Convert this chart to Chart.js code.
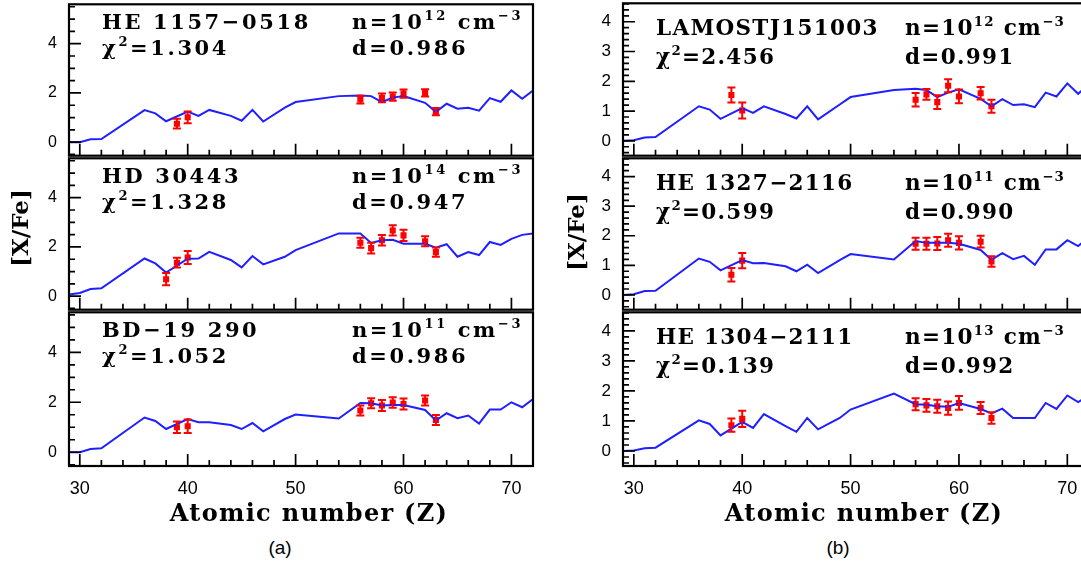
<!DOCTYPE html>
<html>
<head>
<meta charset="utf-8">
<script src="https://cdn.jsdelivr.net/npm/chart.js@4.4.1/dist/chart.umd.min.js"></script>
<style>
  html, body { margin: 0; padding: 0; background: #fff; overflow: hidden; width: 1081px; height: 568px; }
  #wrap { position: relative; width: 1110px; height: 568px; }
  #wrap canvas { position: absolute; }
  .cap { position: absolute; width: 60px; text-align: center; font: 19px "Liberation Sans", Arial, sans-serif; color: #000; }
</style>
</head>
<body>
<div id="wrap">
  <canvas id="p1"></canvas>
  <canvas id="p2"></canvas>
  <canvas id="p3"></canvas>
  <canvas id="p4"></canvas>
  <canvas id="p5"></canvas>
  <canvas id="p6"></canvas>
  <div class="cap" style="left:250px; top:537px;">(a)</div>
  <div class="cap" style="left:808px; top:537px;">(b)</div>
</div>
<script>
// model curves, one value per atomic number in atomicZ
const atomicZ = [29, 30, 31, 32, 36, 37, 38, 40, 41, 42, 44, 45, 46, 47, 49, 50, 54, 56, 57, 58, 59, 60, 62, 63, 64, 65, 66, 67, 68, 69, 70, 71, 72];

const modelHE1157 = [0, 0, 0.12, 0.13, 1.3, 1.17, 0.85, 1.24, 1.07, 1.31, 1.07, 0.87, 1.31, 0.84, 1.4, 1.63, 1.87, 1.9, 1.87, 1.63, 1.81, 1.87, 1.6, 1.23, 1.56, 1.36, 1.4, 1.28, 1.79, 1.64, 2.1, 1.76, 2.1];
const modelHD30443 = [0.07, 0.13, 0.29, 0.32, 1.53, 1.33, 0.96, 1.52, 1.53, 1.8, 1.47, 1.17, 1.63, 1.29, 1.6, 1.87, 2.55, 2.55, 2.16, 2.27, 2.29, 2.13, 2.13, 1.97, 2.11, 1.6, 1.79, 1.67, 2.2, 2.08, 2.33, 2.49, 2.55];
const modelBD19 = [0, 0, 0.13, 0.16, 1.39, 1.25, 0.93, 1.33, 1.2, 1.2, 1.09, 0.93, 1.17, 0.84, 1.33, 1.51, 1.35, 1.97, 1.96, 1.87, 1.89, 1.89, 1.69, 1.27, 1.56, 1.36, 1.47, 1.15, 1.71, 1.71, 2.0, 1.8, 2.13];
const modelLAMOST = [0, 0.02, 0.11, 0.13, 1.16, 1.05, 0.74, 1.1, 0.94, 1.16, 0.9, 0.75, 1.16, 0.72, 1.22, 1.47, 1.71, 1.75, 1.71, 1.47, 1.62, 1.73, 1.41, 1.16, 1.4, 1.2, 1.23, 1.13, 1.62, 1.49, 1.93, 1.58, 1.9];
const modelHE1327 = [0, 0.02, 0.13, 0.14, 1.23, 1.12, 0.83, 1.18, 1.07, 1.08, 0.97, 0.8, 1.02, 0.74, 1.18, 1.38, 1.2, 1.82, 1.76, 1.76, 1.76, 1.73, 1.52, 1.19, 1.41, 1.21, 1.32, 1.02, 1.54, 1.54, 1.85, 1.65, 1.95];
const modelHE1304 = [0, 0.02, 0.09, 0.11, 1.02, 0.9, 0.52, 0.97, 0.77, 1.23, 0.83, 0.64, 1.1, 0.72, 1.1, 1.38, 1.91, 1.56, 1.54, 1.49, 1.47, 1.6, 1.4, 1.25, 1.41, 1.1, 1.1, 1.1, 1.6, 1.4, 1.85, 1.63, 1.85];

// observed abundances with errors
const obsZ = [39, 40, 56, 57, 58, 59, 60, 62, 63];
const obsZ_HE1157 = [39, 40, 56, 58, 59, 60, 62, 63];
const obsZ_HD30443 = [38, 39, 40, 56, 57, 58, 59, 60, 62, 63];

const obsHE1157 = [0.75, 1.01, 1.73, 1.8, 1.85, 1.97, 2.0, 1.24];
const errHE1157 = [0.2, 0.24, 0.16, 0.18, 0.17, 0.17, 0.15, 0.15];
const obsHD30443 = [0.69, 1.36, 1.57, 2.17, 1.95, 2.27, 2.67, 2.47, 2.23, 1.79];
const errHD30443 = [0.25, 0.2, 0.26, 0.2, 0.22, 0.21, 0.21, 0.23, 0.2, 0.19];
const obsBD19 = [1.0, 1.04, 1.67, 1.96, 1.87, 1.99, 1.93, 2.07, 1.29];
const errBD19 = [0.23, 0.27, 0.2, 0.2, 0.22, 0.21, 0.22, 0.2, 0.2];
const obsLAMOST = [1.54, 1.02, 1.38, 1.56, 1.3, 1.85, 1.49, 1.6, 1.16];
const errLAMOST = [0.25, 0.27, 0.23, 0.18, 0.23, 0.22, 0.23, 0.21, 0.22];
const obsHE1327 = [0.68, 1.16, 1.73, 1.73, 1.74, 1.85, 1.76, 1.8, 1.13];
const errHE1327 = [0.23, 0.26, 0.2, 0.2, 0.22, 0.22, 0.22, 0.2, 0.18];
const obsHE1304 = [0.86, 1.07, 1.56, 1.52, 1.49, 1.43, 1.6, 1.43, 1.1];
const errHE1304 = [0.22, 0.27, 0.2, 0.21, 0.22, 0.22, 0.23, 0.2, 0.19];

// tick labels
const xTicks = [30, 40, 50, 60, 70];
const yTicksLeft = [0, 2, 4];
const yTicksRight = [0, 1, 2, 3, 4];

const serif = '"DejaVu Serif", "Liberation Serif", serif';
const sans = '"Liberation Sans", Arial, sans-serif';

const columns = {
  left: { x: 0, width: 540, axisW: 69, yMin: -0.55, yMax: 5.6, yTicks: yTicksLeft, major: 2, minor: 0.5,
          tickSize: 16, size: 21, spacing: 2.6, base1: 25, base2: 51, col2: 283, yTitle: [22.5, 228] },
  right: { x: 560, width: 536, axisW: 63, yMin: -0.5, yMax: 4.62, yTicks: yTicksRight, major: 1, minor: 0.2,
           tickSize: 17, size: 21.5, spacing: 1.3, base1: 32, base2: 61, col2: 282, yTitle: [578.5, 232] }
};

const panels = [
  { id: 'p1', col: 'left', row: 0, model: modelHE1157, z: obsZ_HE1157, v: obsHE1157, e: errHE1157, star: 'HE 1157−0518', chi2: '1.304', dens: '12', d: '0.986' },
  { id: 'p2', col: 'left', row: 1, model: modelHD30443, z: obsZ_HD30443, v: obsHD30443, e: errHD30443, star: 'HD 30443', chi2: '1.328', dens: '14', d: '0.947' },
  { id: 'p3', col: 'left', row: 2, model: modelBD19, z: obsZ, v: obsBD19, e: errBD19, star: 'BD−19 290', chi2: '1.052', dens: '11', d: '0.986' },
  { id: 'p4', col: 'right', row: 0, model: modelLAMOST, z: obsZ, v: obsLAMOST, e: errLAMOST, star: 'LAMOSTJ151003', chi2: '2.456', dens: '12', d: '0.991' },
  { id: 'p5', col: 'right', row: 1, model: modelHE1327, z: obsZ, v: obsHE1327, e: errHE1327, star: 'HE 1327−2116', chi2: '0.599', dens: '11', d: '0.990' },
  { id: 'p6', col: 'right', row: 2, model: modelHE1304, z: obsZ, v: obsHE1304, e: errHE1304, star: 'HE 1304−2111', chi2: '0.139', dens: '13', d: '0.992' }
];

// writes text pieces one after the other, superscripts smaller and raised
function drawRich(ctx, parts, x, y, size) {
  for (const p of parts) {
    const s = p.sup ? size * 0.62 : size;
    ctx.font = `bold ${s}px ${serif}`;
    ctx.fillText(p.t, x, p.sup ? y - size * 0.42 : y);
    x += ctx.measureText(p.t).width;
  }
}

// frame with inward ticks on the bottom and left edges
const frameTicks = {
  id: 'frameTicks',
  afterDraw(chart, args, o) {
    const { ctx, chartArea: a, scales: { x, y } } = chart;
    ctx.save();
    ctx.strokeStyle = '#000';
    ctx.lineWidth = 1.7;
    ctx.beginPath();
    for (let z = 30; z <= 72; z += 2) {
      const px = x.getPixelForValue(z);
      const len = z % 10 === 0 ? 12 : 6;
      ctx.moveTo(px, a.bottom);
      ctx.lineTo(px, a.bottom - len);
    }
    for (let k = Math.ceil(o.yMin / o.minor); k * o.minor <= o.yMax + 1e-9; k++) {
      const v = k * o.minor;
      const r = v / o.major;
      const len = Math.abs(r - Math.round(r)) < 1e-6 ? 12 : 6;
      const py = y.getPixelForValue(v);
      ctx.moveTo(a.left, py);
      ctx.lineTo(a.left + len, py);
    }
    ctx.stroke();
    ctx.lineWidth = 2.2;
    ctx.strokeRect(a.left, a.top, a.right - a.left, a.bottom - a.top);
    ctx.restore();
  }
};

// red error bars with caps
const errorBars = {
  id: 'errorBars',
  afterDatasetsDraw(chart, args, o) {
    const { ctx, scales: { x, y } } = chart;
    ctx.save();
    ctx.strokeStyle = '#ff0000';
    ctx.lineWidth = 2;
    o.z.forEach((z, i) => {
      const px = x.getPixelForValue(z);
      const lo = y.getPixelForValue(o.v[i] - o.e[i]);
      const hi = y.getPixelForValue(o.v[i] + o.e[i]);
      ctx.beginPath();
      ctx.moveTo(px, lo); ctx.lineTo(px, hi);
      ctx.moveTo(px - 4, lo); ctx.lineTo(px + 4, lo);
      ctx.moveTo(px - 4, hi); ctx.lineTo(px + 4, hi);
      ctx.stroke();
    });
    ctx.restore();
  }
};

// star name, chi2, density and dilution factor, plus axis titles
const panelText = {
  id: 'panelText',
  afterDraw(chart, args, o) {
    const { ctx, chartArea: a } = chart;
    ctx.save();
    ctx.fillStyle = '#000';
    ctx.textBaseline = 'alphabetic';
    ctx.textAlign = 'left';
    ctx.letterSpacing = o.spacing + 'px';
    const x1 = a.left + 33;
    const x2 = a.left + o.col2;
    drawRich(ctx, [{ t: o.star }], x1, a.top + o.base1, o.size);
    drawRich(ctx, [{ t: 'χ' }, { t: '2', sup: true }, { t: '=' + o.chi2 }], x1, a.top + o.base2, o.size);
    drawRich(ctx, [{ t: 'n=10' }, { t: o.dens, sup: true }, { t: ' cm' }, { t: '−3', sup: true }], x2, a.top + o.base1, o.size);
    drawRich(ctx, [{ t: 'd=' + o.d }], x2, a.top + o.base2, o.size);

    if (o.row === 1) {
      ctx.letterSpacing = '0px';
      ctx.font = `bold 23px ${serif}`;
      ctx.textAlign = 'center';
      ctx.textBaseline = 'middle';
      ctx.translate(o.yTitle[0] - o.canvasX, o.yTitle[1] - o.canvasY);
      ctx.rotate(-Math.PI / 2);
      ctx.fillText('[X/Fe]', 0, 0);
      ctx.setTransform(1, 0, 0, 1, 0, 0);
    }
    if (o.row === 2) {
      ctx.letterSpacing = '1.3px';
      ctx.font = `bold 24px ${serif}`;
      ctx.textAlign = 'center';
      ctx.fillText('Atomic number (Z)', (a.left + a.right) / 2 + 8, 521 - o.canvasY);
    }
    ctx.restore();
  }
};

const rowTops = [0, 154, 308];

panels.forEach(p => {
  const c = columns[p.col];
  const canvas = document.getElementById(p.id);
  const bottomRow = p.row === 2;
  const firstRight = p.col === 'right' && p.row === 0;
  const top = firstRight ? -1 : rowTops[p.row];
  const height = bottomRow ? 222 : (firstRight ? 161 : 160);
  canvas.width = c.width;
  canvas.height = height;
  canvas.style.left = c.x + 'px';
  canvas.style.top = top + 'px';

  new Chart(canvas, {
    type: 'scatter',
    data: {
      datasets: [
        {
          data: atomicZ.map((z, i) => ({ x: z, y: p.model[i] })),
          showLine: true,
          borderColor: '#1f1fff',
          borderWidth: 2,
          pointRadius: 0,
          tension: 0
        },
        {
          data: p.z.map((z, i) => ({ x: z, y: p.v[i] })),
          pointStyle: 'rect',
          pointRadius: 4.3,
          backgroundColor: '#ff0000',
          borderWidth: 0
        }
      ]
    },
    options: {
      responsive: false,
      animation: false,
      events: [],
      layout: { padding: { left: 0, right: 7, top: 3, bottom: bottomRow ? 0 : 3 } },
      plugins: {
        legend: { display: false },
        tooltip: { enabled: false },
        frameTicks: { yMin: c.yMin, yMax: c.yMax, major: c.major, minor: c.minor },
        errorBars: { z: p.z, v: p.v, e: p.e },
        panelText: {
          star: p.star, chi2: p.chi2, dens: p.dens, d: p.d, row: p.row,
          size: c.size, spacing: c.spacing, base1: c.base1, base2: c.base2, col2: c.col2,
          yTitle: c.yTitle, canvasX: c.x, canvasY: top
        }
      },
      scales: {
        x: {
          type: 'linear',
          min: 29,
          max: 72,
          display: bottomRow,
          grid: { display: false, drawTicks: false },
          border: { display: false },
          afterBuildTicks: s => { s.ticks = xTicks.map(v => ({ value: v })); },
          afterFit: s => {
            s.height = bottomRow ? 64 : 0;
            s.paddingLeft = 0;
            s.paddingRight = 0;
          },
          ticks: { autoSkip: false, maxRotation: 0, padding: 12, color: '#000', font: { family: sans, size: 18 } }
        },
        y: {
          type: 'linear',
          min: c.yMin,
          max: c.yMax,
          grid: { display: false, drawTicks: false },
          border: { display: false },
          afterBuildTicks: s => { s.ticks = c.yTicks.map(v => ({ value: v })); },
          afterFit: s => {
            s.width = c.axisW;
            s.paddingTop = 0;
            s.paddingBottom = 0;
          },
          ticks: { padding: 12, color: '#000', font: { family: sans, size: c.tickSize } }
        }
      }
    },
    plugins: [frameTicks, errorBars, panelText]
  });
});
</script>
</body>
</html>
